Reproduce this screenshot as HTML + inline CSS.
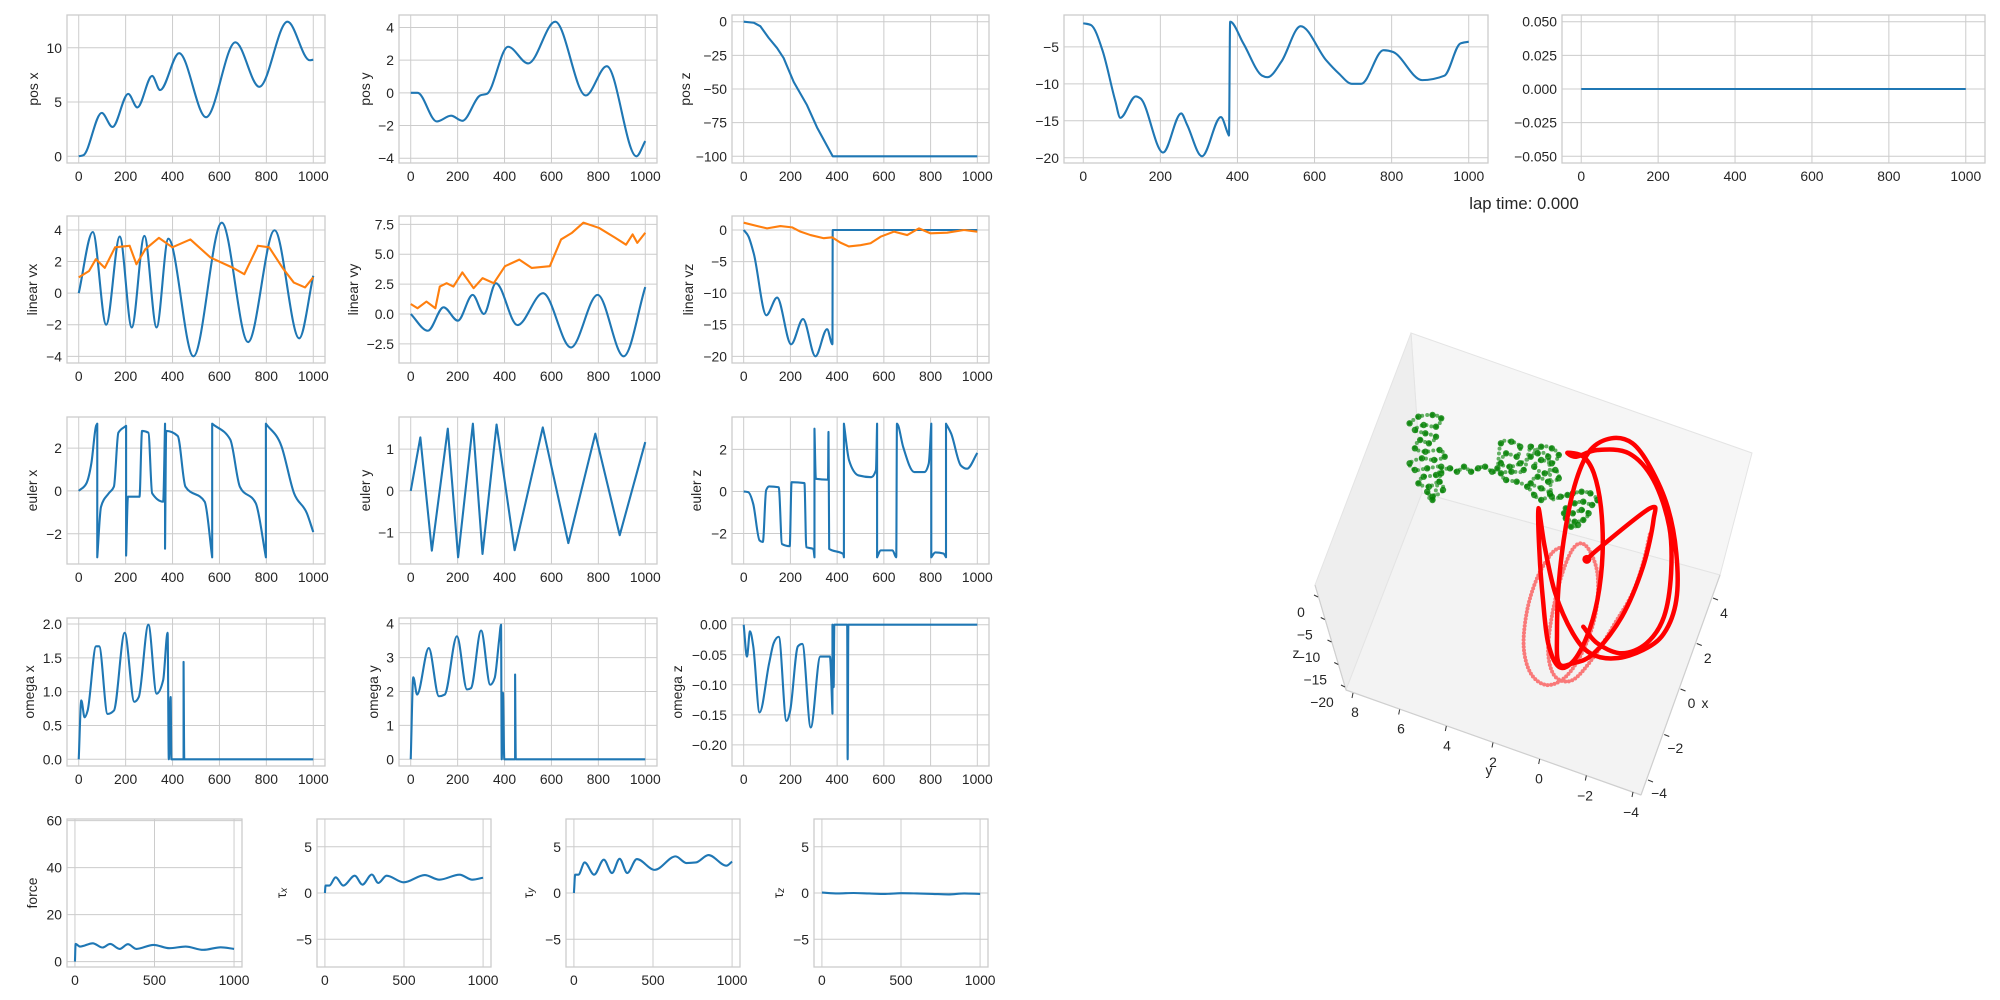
<!DOCTYPE html>
<html><head><meta charset="utf-8">
<style>
html,body{margin:0;padding:0;background:#fff;}
svg{display:block;font-family:"Liberation Sans",sans-serif;}
</style></head>
<body>
<svg id="fig" width="2000" height="1000" viewBox="0 0 2000 1000" xmlns="http://www.w3.org/2000/svg">
<rect x="0" y="0" width="2000" height="1000" fill="#fff"/>
</svg>
<script>
// ---------- data (t = step, v = value) ----------
const posXT=[0,20,98,144,211,250,313,347,428,543,668,770,890,985,1000];
const posXV=[0,0.1,4.0,2.7,5.75,4.5,7.4,6.1,9.5,3.6,10.5,6.4,12.4,8.85,8.9];
const posYT=[0,29,111,172,220,296,325,415,501,616,746,836,962,1000];
const posYV=[0,0,-1.75,-1.4,-1.71,-0.16,-0.06,2.82,1.8,4.35,-0.16,1.63,-3.88,-2.95];
const posZT=[0,43,71,107,143,171,214,271,314,381,1000];
const posZV=[0,-0.75,-3.3,-12,-19.6,-27,-44.7,-62,-78.6,-100,-100];
const c4T=[0,20,50,83,96,136,149,207,254,269,308,357,376,378,381,415,464,478,514,564,630,663,697,721,779,804,879,937,978,1000];
const c4V=[-1.8,-2.05,-5.5,-12.3,-14.6,-11.7,-12,-19.3,-14,-15.5,-19.8,-14.5,-16.8,-17,-1.6,-4.5,-8.9,-9.1,-7,-2.2,-6.8,-8.6,-10,-10,-5.45,-5.7,-9.5,-8.9,-4.55,-4.3];
const c5T=[0,1000];
const c5V=[0,0];
const vxBT=[0,60,117,175,226,280,332,382,489,610,722,835,940,1000];
const vxBV=[0,3.87,-2.0,3.58,-2.17,3.62,-2.17,3.45,-4.0,4.46,-3.1,3.98,-2.86,1.1];
const vxOT=[0,44,73,111,155,217,246,284,342,399,476,562,658,706,764,812,869,917,965,1000];
const vxOV=[1.0,1.4,2.15,1.6,2.9,3.0,1.83,2.78,3.5,2.9,3.4,2.25,1.6,1.2,3.0,2.9,1.6,0.67,0.36,1.0];
const vyBT=[0,73,140,201,264,312,363,455,564,683,797,908,1000];
const vyBV=[0,-1.4,0.56,-0.56,1.6,0,2.58,-0.93,1.74,-2.8,1.6,-3.54,2.25];
const vyOT=[0,29,67,105,124,153,182,220,268,306,354,402,463,516,593,641,688,736,803,870,918,946,966,1000];
const vyOV=[0.84,0.48,1.04,0.48,2.3,2.58,2.3,3.48,2.16,3.0,2.58,4.0,4.55,3.85,4.0,6.24,6.8,7.64,7.2,6.4,5.8,6.66,5.95,6.8];
const vzBT=[0,21,43,97,143,203,254,307,357,380,381,1000];
const vzBV=[0,-1.06,-3.7,-13.5,-10.7,-18.1,-14.1,-20,-15.7,-18.1,0,0];
const vzOT=[0,57,100,157,207,243,286,343,379,414,450,500,543,586,643,700,750,800,871,943,1000];
const vzOV=[1.16,0.63,0.26,0.63,0.42,-0.26,-0.8,-1.3,-1.16,-2,-2.6,-2.4,-2.1,-1.06,-0.26,-0.8,0.26,-0.53,-0.42,0,-0.26];
const exT=[0,33,54,74,79,79,95,128,150,169,202,202,210,259,270,297,313,360,368,368,373,422,455,537,569,569,646,687,755,798,798,864,918,973,1000];
const exV=[0,0.36,1.3,3.04,3.14,-3.1,-0.74,-0.11,0.2,2.72,3.04,-3.02,-0.27,-0.27,2.8,2.72,-0.11,-0.5,3.14,-2.7,2.8,2.57,0.2,-0.5,-3.1,3.14,2.4,0.2,-0.58,-3.1,3.14,2.1,-0.11,-1.05,-1.92];
const eyT=[0,41,90,158,202,265,306,366,443,563,672,787,891,1000];
const eyV=[0,1.28,-1.43,1.49,-1.59,1.61,-1.51,1.59,-1.42,1.52,-1.25,1.37,-1.06,1.17];
const ezT=[0,19,41,68,82,96,109,150,164,197,205,260,268,298,303,303,309,361,363,366,426,429,429,451,492,546,566,571,571,587,637,653,656,683,730,773,792,803,803,820,855,866,866,888,929,956,1000];
const ezV=[0,-0.03,-0.6,-2.33,-2.4,0.05,0.24,0.2,-2.5,-2.6,0.44,0.4,-2.65,-2.73,-3.13,2.98,0.6,0.56,2.83,-2.73,-2.97,-3.13,3.22,1.48,0.76,0.68,1,3.22,-3.13,-2.8,-2.8,-3.13,3.22,2.1,0.92,0.92,1.32,3.22,-3.13,-2.9,-2.95,-3.13,3.22,2.75,1.24,1.08,1.83];
const oxT=[0,11,25,38,74,87,123,150,196,237,256,297,332,360,379,384,392,395,447,447,450,1000];
const oxV=[0,0.87,0.62,0.72,1.67,1.67,0.67,0.72,1.87,0.85,0.92,1.99,0.97,1.17,1.87,0,0.92,0,0,1.44,0,0];
const oyT=[0,11,27,77,120,145,197,240,257,300,339,358,377,385,388,393,399,445,445,448,1000];
const oyV=[0,2.42,1.91,3.28,1.86,1.91,3.63,2.06,2.1,3.8,2.2,2.4,3.53,3.97,0,1.96,0,0,2.5,0,0];
const ozT=[0,14,27,41,68,109,128,150,183,199,232,251,287,328,369,380,380,385,388,443,445,448,1000];
const ozV=[0,-0.053,-0.011,-0.036,-0.146,-0.064,-0.031,-0.02,-0.16,-0.143,-0.036,-0.032,-0.171,-0.053,-0.053,-0.148,0,-0.104,0,0,-0.224,0,0];
const fT=[0,4,32,112,173,221,281,333,386,494,594,695,807,916,1000];
const fV=[0,7.5,6.4,7.8,6,7.5,5.4,7.4,5.4,7.1,5.7,6.4,5,6.1,5.4];
const txT=[0,4,28,68,116,189,237,297,337,390,498,631,723,851,932,1000];
const txV=[0,0.8,0.8,1.7,0.8,1.87,0.9,2,1.08,1.87,1.15,1.94,1.44,1.98,1.44,1.65];
const tyT=[0,8,28,68,128,189,241,289,337,398,510,643,711,771,851,964,1000];
const tyV=[0,1.98,1.98,3.3,1.98,3.6,2.16,3.7,2.16,3.67,2.5,3.96,3.24,3.3,4.1,2.95,3.4];
const tzT=[0,100,200,300,400,500,600,700,800,900,1000];
const tzV=[0.05,-0.05,0,-0.05,-0.1,-0.02,-0.05,-0.1,-0.15,-0.05,-0.1];

const stdXTicks=[0,200,400,600,800,1000];
const bottomXTicks=[0,500,1000];

// 3D view data (projected view units)
const redBrightU=[960,1000,1140,1150,1120,1060,980,920,880,875,880,900,930,970,1030,1090,1140,1190,1215,1215,1180,1120,1040,970,920,870,840,822,825,835,850,880,920,960,990,1005,1000,980,950,905,930,990,1080,1150,1195,1200,1180,1130,1060,990,950];
const redBrightW=[778,740,625,660,800,950,1060,1090,1090,1000,850,680,540,450,415,430,500,620,760,900,1000,1050,1075,1060,1000,880,740,625,760,900,1030,1100,1085,1010,900,760,620,520,470,458,470,450,460,540,680,820,950,1030,1060,1030,980];
const redFadeU=[890,860,820,790,780,800,845,900,950,985,990,960,925,890,860,850,870,920,980,1040,1090,1120,1140];
const redFadeW=[740,760,830,930,1040,1120,1155,1130,1050,940,820,740,740,820,950,1060,1130,1140,1070,970,880,790,700];
const greenU=[455,480,520,545,530,495,470,500,530,510,485,470,500,540,555,525,490,455,470,505,545,530,495,480,510,540,550,520,505,520,545,570,590,610,630,650,670,690,705,715,745,770,760,730,715,740,770,800,830,860,880,860,830,810,840,870,880,850,820,800,830,855,830,810,790,760,730,715,745,780,800,820,850,860,885,905,920,945,970,990,975,950,925,900,920,945,965,950,925,900,895,915,935];
const greenW=[370,350,345,355,380,375,390,400,410,430,420,445,455,450,470,480,475,490,510,505,500,525,530,550,560,545,570,590,575,600,520,505,515,500,515,505,500,515,505,430,425,440,470,460,490,500,490,470,440,445,465,490,480,500,520,510,535,545,530,550,565,580,600,585,560,545,540,520,515,510,440,460,470,590,590,585,580,575,580,600,615,605,610,625,640,630,640,660,665,655,640,680,675];

// ---------- helpers ----------
const NS='http://www.w3.org/2000/svg';
const fig=document.getElementById('fig');
function mk(tag,parent){const e=document.createElementNS(NS,tag);(parent||fig).appendChild(e);return e;}
function fmt(v,d){let s=v.toFixed(d);if(v<0)s='\u2212'+s.slice(1);if(parseFloat(s.replace('\u2212','-'))===0)s=(0).toFixed(d);return s;}

function monoPath(pts){
  let d='';let runs=[];let cur=[pts[0]];
  for(let i=1;i<pts.length;i++){
    if(pts[i][0]-cur[cur.length-1][0]<0.01){runs.push(cur);cur=[pts[i]];}
    else cur.push(pts[i]);
  }
  runs.push(cur);
  runs.forEach((r,ri)=>{
    d+=(ri===0?'M':'L')+r[0][0].toFixed(2)+','+r[0][1].toFixed(2);
    const n=r.length;if(n<2)return;
    const s=[],m=[];
    for(let i=0;i<n-1;i++)s.push((r[i+1][1]-r[i][1])/(r[i+1][0]-r[i][0]));
    m[0]=s[0];m[n-1]=s[n-2];
    for(let i=1;i<n-1;i++){
      const h0=r[i][0]-r[i-1][0],h1=r[i+1][0]-r[i][0],s0=s[i-1],s1=s[i];
      if(s0*s1<=0){m[i]=0;continue;}
      const p=(s0*h1+s1*h0)/(h0+h1);
      m[i]=(Math.sign(s0)+Math.sign(s1))*Math.min(Math.abs(s0),Math.abs(s1),0.5*Math.abs(p));
    }
    for(let i=0;i<n-1;i++){
      const h=r[i+1][0]-r[i][0];
      d+='C'+(r[i][0]+h/3).toFixed(2)+','+(r[i][1]+m[i]*h/3).toFixed(2)+' '+(r[i+1][0]-h/3).toFixed(2)+','+(r[i+1][1]-m[i+1]*h/3).toFixed(2)+' '+r[i+1][0].toFixed(2)+','+r[i+1][1].toFixed(2);
    }
  });
  return d;
}
function catmull(pts){
  let d='M'+pts[0][0].toFixed(1)+','+pts[0][1].toFixed(1);
  for(let i=0;i<pts.length-1;i++){
    const p0=pts[Math.max(i-1,0)],p1=pts[i],p2=pts[i+1],p3=pts[Math.min(i+2,pts.length-1)];
    d+='C'+(p1[0]+(p2[0]-p0[0])/6).toFixed(1)+','+(p1[1]+(p2[1]-p0[1])/6).toFixed(1)+' '+(p2[0]-(p3[0]-p1[0])/6).toFixed(1)+','+(p2[1]-(p3[1]-p1[1])/6).toFixed(1)+' '+p2[0].toFixed(1)+','+p2[1].toFixed(1);
  }
  return d;
}

function panel(p){
  const g=mk('g');
  
  
  const xl=p.xlim||[-50,1050];
  let yl=p.ylim;
  if(!yl){let mn=Infinity,mx=-Infinity;p.series.forEach(s=>s.v.forEach(v=>{mn=Math.min(mn,v);mx=Math.max(mx,v);}));const r=(mx-mn)||0.1;yl=[mn-0.05*r,mx+0.05*r];}
  const sx=v=>p.x0+(v-xl[0])/(xl[1]-xl[0])*(p.x1-p.x0);
  const sy=v=>p.y1-(v-yl[0])/(yl[1]-yl[0])*(p.y1-p.y0);
  p.xticks.forEach(t=>{const l=mk('line',g);l.setAttribute('x1',sx(t));l.setAttribute('x2',sx(t));l.setAttribute('y1',p.y0);l.setAttribute('y2',p.y1);l.setAttribute('stroke','#cccccc');l.setAttribute('stroke-width','1');
    
    
    const tx=mk('text',g);tx.setAttribute('x',sx(t));tx.setAttribute('y',p.y1+18);tx.setAttribute('text-anchor','middle');tx.setAttribute('font-size','13.9');tx.setAttribute('fill','#262626');tx.textContent=String(t);
    
    });
  p.yticks.forEach((t,i)=>{const l=mk('line',g);l.setAttribute('x1',p.x0);l.setAttribute('x2',p.x1);l.setAttribute('y1',sy(t));l.setAttribute('y2',sy(t));l.setAttribute('stroke','#cccccc');l.setAttribute('stroke-width','1');
    
    
    const tx=mk('text',g);tx.setAttribute('x',p.x0-5);tx.setAttribute('y',sy(t)+5);tx.setAttribute('text-anchor','end');tx.setAttribute('font-size','13.9');tx.setAttribute('fill','#262626');tx.textContent=p.ylabels[i];
    
    });
  const fr=mk('rect',g);fr.setAttribute('x',p.x0);fr.setAttribute('y',p.y0);fr.setAttribute('width',p.x1-p.x0);fr.setAttribute('height',p.y1-p.y0);fr.setAttribute('fill','none');fr.setAttribute('stroke','#cccccc');fr.setAttribute('stroke-width','1.3');
  
  
  const cp='clip-'+p.name;
  const c=mk('clipPath',g);c.setAttribute('id',cp);const cr=mk('rect',c);cr.setAttribute('x',p.x0);cr.setAttribute('y',p.y0-2);cr.setAttribute('width',p.x1-p.x0);cr.setAttribute('height',p.y1-p.y0+4);
  p.series.forEach(s=>{
    const pts=s.t.map((t,i)=>[sx(t),sy(s.v[i])]);
    const path=mk('path',g);path.setAttribute('d',s.lin?('M'+pts.map(q=>q[0].toFixed(2)+','+q[1].toFixed(2)).join('L')):monoPath(pts));
    path.setAttribute('fill','none');path.setAttribute('stroke',s.color||'#1f77b4');path.setAttribute('stroke-width','2.1');path.setAttribute('stroke-linejoin','round');path.setAttribute('clip-path','url(#'+cp+')');
    
    
  });
  if(p.label){const tx=mk('text',g);tx.setAttribute('transform','translate('+p.lx+','+((p.y0+p.y1)/2)+') rotate(-90)');tx.setAttribute('text-anchor','middle');tx.setAttribute('dominant-baseline','central');tx.setAttribute('font-size','13.9');tx.setAttribute('fill','#262626');
    if(p.sub){tx.textContent='\u03c4';const ts=mk('tspan',tx);ts.setAttribute('font-size','10');ts.setAttribute('dy','3');ts.setAttribute('font-style','italic');ts.textContent=p.sub;}
    else tx.textContent=p.label;
    
    }
}

const R=[[15,163],[216,363],[417,564],[618,766],[819,967]];
const A=[67,325],B=[399,657],C=[732,989];
const L=a=>a.map(v=>fmt(v,0));
panel({name:'pos-x-chart',x0:A[0],x1:A[1],y0:R[0][0],y1:R[0][1],xticks:stdXTicks,yticks:[0,5,10],ylabels:L([0,5,10]),series:[{t:posXT,v:posXV,name:'pos-x-line'}],label:'pos x',lx:33});
panel({name:'pos-y-chart',x0:B[0],x1:B[1],y0:R[0][0],y1:R[0][1],xticks:stdXTicks,yticks:[-4,-2,0,2,4],ylabels:L([-4,-2,0,2,4]),series:[{t:posYT,v:posYV,name:'pos-y-line'}],label:'pos y',lx:365});
panel({name:'pos-z-chart',x0:C[0],x1:C[1],y0:R[0][0],y1:R[0][1],xticks:stdXTicks,yticks:[0,-25,-50,-75,-100],ylabels:L([0,-25,-50,-75,-100]),series:[{t:posZT,v:posZV,lin:true,name:'pos-z-line'}],label:'pos z',lx:685});
panel({name:'heading-chart',x0:1064,x1:1488,y0:R[0][0],y1:R[0][1],xticks:stdXTicks,yticks:[-5,-10,-15,-20],ylabels:L([-5,-10,-15,-20]),series:[{t:c4T,v:c4V,name:'heading-line'}]});
panel({name:'zero-chart',x0:1562,x1:1985,y0:R[0][0],y1:R[0][1],ylim:[-0.055,0.055],xticks:stdXTicks,yticks:[-0.05,-0.025,0,0.025,0.05],ylabels:[-0.05,-0.025,0,0.025,0.05].map(v=>fmt(v,3)),series:[{t:c5T,v:c5V,lin:true,name:'zero-line'}]});
panel({name:'linear-vx-chart',x0:A[0],x1:A[1],y0:R[1][0],y1:R[1][1],xticks:stdXTicks,yticks:[-4,-2,0,2,4],ylabels:L([-4,-2,0,2,4]),series:[{t:vxBT,v:vxBV,name:'vx-line'},{t:vxOT,v:vxOV,lin:true,color:'#ff7f0e',name:'vx-ref-line'}],label:'linear vx',lx:32});
panel({name:'linear-vy-chart',x0:B[0],x1:B[1],y0:R[1][0],y1:R[1][1],xticks:stdXTicks,yticks:[-2.5,0,2.5,5,7.5],ylabels:[-2.5,0,2.5,5,7.5].map(v=>fmt(v,1)),series:[{t:vyBT,v:vyBV,name:'vy-line'},{t:vyOT,v:vyOV,lin:true,color:'#ff7f0e',name:'vy-ref-line'}],label:'linear vy',lx:353});
panel({name:'linear-vz-chart',x0:C[0],x1:C[1],y0:R[1][0],y1:R[1][1],xticks:stdXTicks,yticks:[0,-5,-10,-15,-20],ylabels:L([0,-5,-10,-15,-20]),series:[{t:vzBT,v:vzBV,name:'vz-line'},{t:vzOT,v:vzOV,lin:true,color:'#ff7f0e',name:'vz-ref-line'}],label:'linear vz',lx:688});
panel({name:'euler-x-chart',x0:A[0],x1:A[1],y0:R[2][0],y1:R[2][1],xticks:stdXTicks,yticks:[-2,0,2],ylabels:L([-2,0,2]),series:[{t:exT,v:exV,name:'euler-x-line'}],label:'euler x',lx:32});
panel({name:'euler-y-chart',x0:B[0],x1:B[1],y0:R[2][0],y1:R[2][1],xticks:stdXTicks,yticks:[-1,0,1],ylabels:L([-1,0,1]),series:[{t:eyT,v:eyV,lin:true,name:'euler-y-line'}],label:'euler y',lx:365});
panel({name:'euler-z-chart',x0:C[0],x1:C[1],y0:R[2][0],y1:R[2][1],xticks:stdXTicks,yticks:[-2,0,2],ylabels:L([-2,0,2]),series:[{t:ezT,v:ezV,name:'euler-z-line'}],label:'euler z',lx:696});
panel({name:'omega-x-chart',x0:A[0],x1:A[1],y0:R[3][0],y1:R[3][1],xticks:stdXTicks,yticks:[0,0.5,1,1.5,2],ylabels:[0,0.5,1,1.5,2].map(v=>fmt(v,1)),series:[{t:oxT,v:oxV,name:'omega-x-line'}],label:'omega x',lx:29});
panel({name:'omega-y-chart',x0:B[0],x1:B[1],y0:R[3][0],y1:R[3][1],xticks:stdXTicks,yticks:[0,1,2,3,4],ylabels:L([0,1,2,3,4]),series:[{t:oyT,v:oyV,name:'omega-y-line'}],label:'omega y',lx:373});
panel({name:'omega-z-chart',x0:C[0],x1:C[1],y0:R[3][0],y1:R[3][1],xticks:stdXTicks,yticks:[0,-0.05,-0.1,-0.15,-0.2],ylabels:[0,-0.05,-0.1,-0.15,-0.2].map(v=>fmt(v,2)),series:[{t:ozT,v:ozV,name:'omega-z-line'}],label:'omega z',lx:677});
panel({name:'force-chart',x0:67,x1:242,y0:R[4][0],y1:R[4][1],ylim:[-2.3,60.7],xticks:bottomXTicks,yticks:[0,20,40,60],ylabels:L([0,20,40,60]),series:[{t:fT,v:fV,name:'force-line'}],label:'force',lx:32});
panel({name:'tau-x-chart',x0:317,x1:491,y0:R[4][0],y1:R[4][1],ylim:[-8,8],xticks:bottomXTicks,yticks:[-5,0,5],ylabels:L([-5,0,5]),series:[{t:txT,v:txV,name:'tau-x-line'}],label:'tau x',sub:'x',lx:281});
panel({name:'tau-y-chart',x0:566,x1:740,y0:R[4][0],y1:R[4][1],ylim:[-8,8],xticks:bottomXTicks,yticks:[-5,0,5],ylabels:L([-5,0,5]),series:[{t:tyT,v:tyV,name:'tau-y-line'}],label:'tau y',sub:'y',lx:528});
panel({name:'tau-z-chart',x0:814,x1:988,y0:R[4][0],y1:R[4][1],ylim:[-8,8],xticks:bottomXTicks,yticks:[-5,0,5],ylabels:L([-5,0,5]),series:[{t:tzT,v:tzV,name:'tau-z-line'}],label:'tau z',sub:'z',lx:778});

const lt=mk('text');lt.setAttribute('x',1524);lt.setAttribute('y',209);lt.setAttribute('text-anchor','middle');lt.setAttribute('font-size','16.7');lt.setAttribute('fill','#262626');lt.textContent='lap time: 0.000';



// ---------- 3D view ----------
const g3=mk('g');


const PX=u=>1250+u/2.85, PY=w=>300+w/3;
function poly(pts,fill,name){const p=mk('polygon',g3);p.setAttribute('points',pts.map(q=>q.join(',')).join(' '));p.setAttribute('fill',fill);p.setAttribute('stroke','#e4e4e4');p.setAttribute('stroke-width','1');
  
  }
poly([[1411,333],[1752,453],[1720,575],[1422,493]],'#f6f6f6','back-pane');
poly([[1411,333],[1422,493],[1346,690],[1315,585]],'#eeeeee','side-pane');
poly([[1422,493],[1720,575],[1641,795],[1346,690]],'#f3f3f3','floor-pane');
function seg(x1,y1,x2,y2,c,w,name){const l=mk('line',g3);l.setAttribute('x1',x1);l.setAttribute('y1',y1);l.setAttribute('x2',x2);l.setAttribute('y2',y2);l.setAttribute('stroke',c);l.setAttribute('stroke-width',w);
  
  }
seg(1315,585,1346,690,'#cfcfcf',1.2,'z-axis-line');
seg(1346,690,1641,795,'#cfcfcf',1.2,'y-axis-line');
seg(1720,575,1641,795,'#cfcfcf',1.2,'x-axis-line');
function lab(x,y,s,name,anchor){const t=mk('text',g3);t.setAttribute('x',x);t.setAttribute('y',y);t.setAttribute('text-anchor',anchor||'middle');t.setAttribute('dominant-baseline','central');t.setAttribute('font-size','13.9');t.setAttribute('fill','#262626');t.textContent=s;
  
  }
const zTicks=[0,-5,-10,-15,-20];
zTicks.forEach((v,i)=>{const f=i/4;const bx=1318+f*(1345-1318),by=597+f*(687-597);seg(bx,by,bx-4,by-2,'#333',1,'z-tick');lab(bx-14-(String(v).length*3),by+15,fmt(v,0),'z-tick-label');});
lab(1296,653,'z','z-axis-title');
const yTicks=[8,6,4,2,0,-2,-4];
yTicks.forEach((v,i)=>{const f=i/6;const bx=1353+f*(1633-1353),by=693+f*(792-693);seg(bx,by,bx-1,by+5,'#333',1,'y-tick');lab(1355+f*(1631-1355),712+f*(812-712),fmt(v,0),'y-tick-label');});
lab(1489,770,'y','y-axis-title');
const xTicks=[4,2,0,-2,-4];
xTicks.forEach((v,i)=>{const f=i/4;const bx=1713+f*(1648-1713),by=598+f*(780-598);seg(bx,by,bx+5,by+2,'#333',1,'x-tick');lab(1724+f*(1659-1724),613+f*(793-613),fmt(v,0),'x-tick-label');});
lab(1705,703,'x','x-axis-title');

const gPts=greenU.map((u,i)=>[PX(u),PY(greenW[i])]);
gPts.forEach(q=>{const c=mk('circle',g3);c.setAttribute('cx',q[0].toFixed(1));c.setAttribute('cy',q[1].toFixed(1));c.setAttribute('r','3.2');c.setAttribute('fill','#008000');c.setAttribute('fill-opacity','0.8');
  
  });
const gp=mk('path',g3);gp.setAttribute('d',catmull(gPts));gp.setAttribute('fill','none');gp.setAttribute('stroke','#008000');gp.setAttribute('stroke-width','4');gp.setAttribute('stroke-opacity','0.6');gp.setAttribute('stroke-dasharray','0 5');gp.setAttribute('stroke-linecap','round');


const rf=mk('path',g3);rf.setAttribute('d',catmull(redFadeU.map((u,i)=>[PX(u),PY(redFadeW[i])])));rf.setAttribute('fill','none');rf.setAttribute('stroke','#ff0000');rf.setAttribute('stroke-opacity','0.5');rf.setAttribute('stroke-width','4');rf.setAttribute('stroke-dasharray','0 3.5');rf.setAttribute('stroke-linecap','round');


const rb=mk('path',g3);rb.setAttribute('d',catmull(redBrightU.map((u,i)=>[PX(u),PY(redBrightW[i])])));rb.setAttribute('fill','none');rb.setAttribute('stroke','#ff0000');rb.setAttribute('stroke-width','4.5');rb.setAttribute('stroke-linecap','round');rb.setAttribute('stroke-linejoin','round');


const sd=mk('circle',g3);sd.setAttribute('cx',PX(redBrightU[0]));sd.setAttribute('cy',PY(redBrightW[0]));sd.setAttribute('r','4.5');sd.setAttribute('fill','#ff0000');


</script>
</body></html>
